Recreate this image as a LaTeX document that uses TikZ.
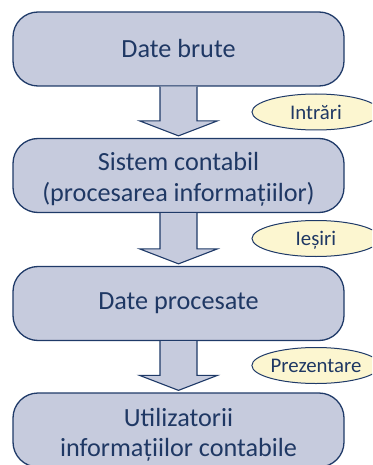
\documentclass[tikz,border=0pt]{standalone}
\usepackage{fontspec}
\setmainfont{Carlito}
\usetikzlibrary{calc,shapes.geometric}
\definecolor{navy}{HTML}{1F3A68}
\definecolor{txt}{HTML}{1F3864}
\definecolor{boxfill}{HTML}{C6CBDD}
\definecolor{ellfill}{HTML}{FCF6D0}
\tikzset{
  flowbox/.style={draw=navy, line width=1.3pt, fill=boxfill, rounded corners=25pt,
    minimum width=331pt, minimum height=74pt, inner sep=0pt},
  boxtxt/.style={align=center, inner sep=0pt, text=txt,
    font=\fontsize{26.2}{30.5}\selectfont},
  tagell/.style={ellipse, draw=navy, line width=1pt, fill=ellfill,
    minimum width=128pt, minimum height=36pt, inner sep=0pt, text depth=0pt,
    text=txt, font=\fontsize{20.8}{24}\selectfont},
  blockarrow/.style={draw=navy, line width=1.1pt, fill=boxfill, line join=miter}
}
\newcommand{\blockarr}[2]{%
  \draw[blockarrow] ($(#1.south)+(-18.5,0)$) -- ($(#2.north)+(-18.5,-17)$)
    -- ($(#2.north)+(-39,-17)$) -- ($(#2.north)+(0,-2)$)
    -- ($(#2.north)+(39,-17)$) -- ($(#2.north)+(18.5,-17)$)
    -- ($(#1.south)+(18.5,0)$);}
\begin{document}
\begin{tikzpicture}[x=1pt,y=-1pt]
\useasboundingbox (0,0) rectangle (372,465);
\begin{scope}
\clip (0,0) rectangle (372,465);
\node[flowbox, label={[boxtxt]center:Date brute}] (b1) at (178.5,49) {};
\node[flowbox, label={[boxtxt,yshift=-4pt]center:Sistem contabil\\(procesarea informațiilor)}] (b2) at (178.5,175.5) {};
\node[flowbox, label={[boxtxt]center:Date procesate}] (b3) at (178.5,303.5) {};
\node[flowbox, label={[boxtxt,yshift=-5pt]center:Utilizatorii\\informațiilor contabile}] (b4) at (178.5,430) {};
\blockarr{b1}{b2}
\blockarr{b2}{b3}
\blockarr{b3}{b4}
\node[tagell] (e1) at (316,112) {Intrări};
\node[tagell] (e2) at (316,238.5) {Ieșiri};
\node[tagell] (e3) at (316,365.5) {Prezentare};
\end{scope}
\end{tikzpicture}
\end{document}
